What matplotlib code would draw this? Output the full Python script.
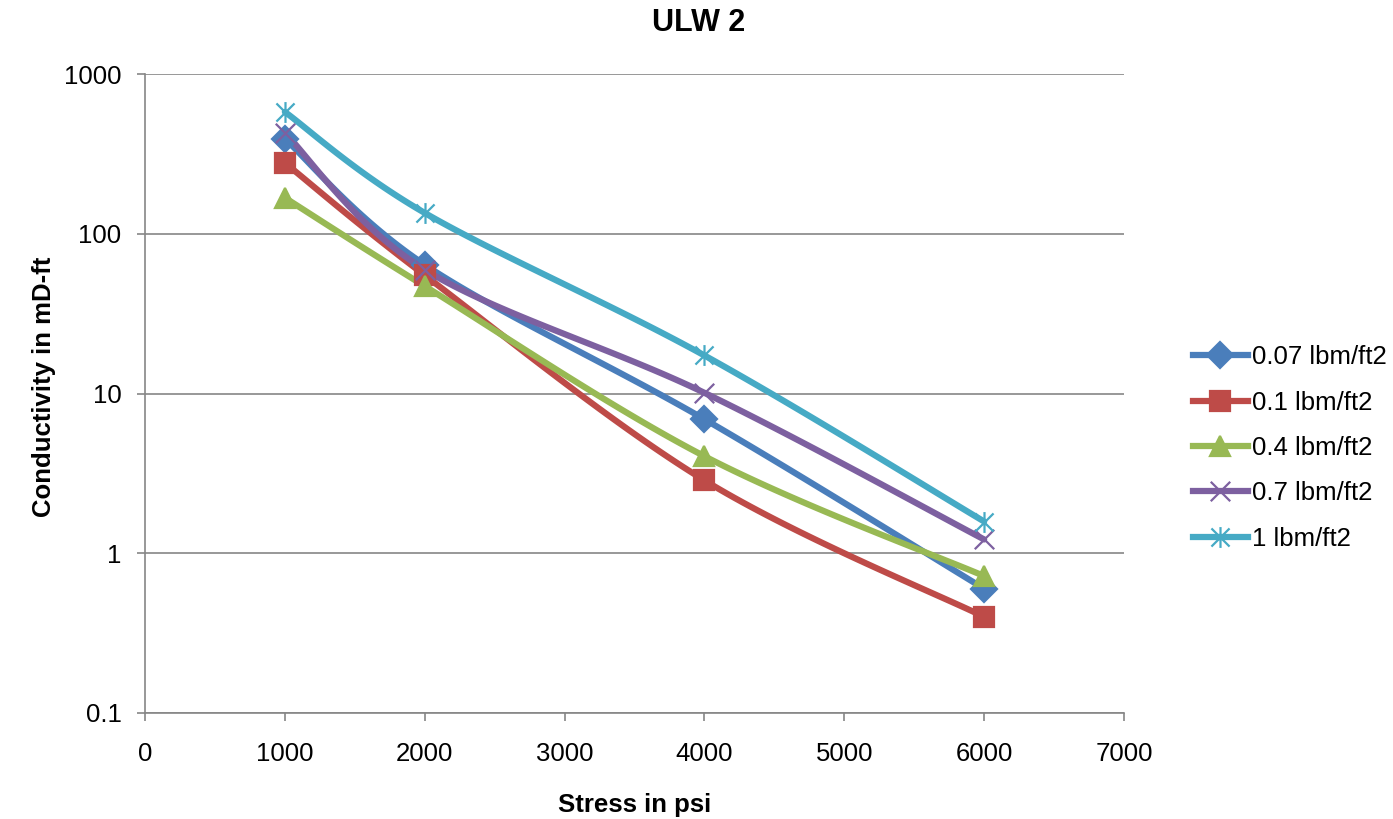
import numpy as np
import matplotlib
matplotlib.use("Agg")
import matplotlib.pyplot as plt
from matplotlib.path import Path
from matplotlib.lines import Line2D

plt.rcParams['font.family'] = ['Liberation Sans', 'DejaVu Sans']

stress = [1000, 2000, 4000, 6000]
labels = ["0.07 lbm/ft2", "0.1 lbm/ft2", "0.4 lbm/ft2", "0.7 lbm/ft2", "1 lbm/ft2"]
s007 = [393, 64, 6.9, 0.60]
s01 = [278, 55, 2.86, 0.40]
s04 = [168, 47, 4.05, 0.72]
s07 = [428, 59.6, 10.1, 1.22]
s1 = [579, 135, 17.3, 1.58]
series = [s007, s01, s04, s07, s1]
colors = ["#4a7ebb", "#be4b48", "#98b954", "#7d60a0", "#46aac5"]

star = Path([(-1, -1), (1, 1), (-1, 1), (1, -1), (0, -1.15), (0, 1.15)],
            [Path.MOVETO, Path.LINETO, Path.MOVETO, Path.LINETO, Path.MOVETO, Path.LINETO])
xmark = Path([(-1, -1), (1, 1), (-1, 1), (1, -1)],
             [Path.MOVETO, Path.LINETO, Path.MOVETO, Path.LINETO])
markers = ["D", "s", "^", xmark, star]
msizes = [13, 14, 14, 14, 15]

W, H = 1393, 819
fig = plt.figure(figsize=(W / 100, H / 100), dpi=100)
ax = fig.add_axes([145 / W, (H - 713) / H, (1124 - 145) / W, (713 - 74) / H])

xpx = 979 / 7000.0
ypx = 160.0


def smooth(xs, ys, n=40):
    P = np.array([[x * xpx, np.log10(y) * ypx] for x, y in zip(xs, ys)])
    out = []
    for i in range(len(P) - 1):
        p0 = P[i - 1] if i > 0 else P[i]
        p1 = P[i]
        p2 = P[i + 1]
        p3 = P[i + 2] if i + 2 < len(P) else P[i + 1]
        c1 = p1 + (p2 - p0) / 6.0
        c2 = p2 - (p3 - p1) / 6.0
        t = np.linspace(0, 1, n)[:, None]
        seg = ((1 - t) ** 3) * p1 + 3 * ((1 - t) ** 2) * t * c1 + 3 * (1 - t) * t ** 2 * c2 + t ** 3 * p2
        out.append(seg if i == 0 else seg[1:])
    out = np.vstack(out)
    return out[:, 0] / xpx, 10 ** (out[:, 1] / ypx)


for vals, c in zip(series, colors):
    sx, sy = smooth(stress, vals)
    ax.plot(sx, sy, color=c, lw=4.5, solid_capstyle='round', zorder=3)
for vals, c, m, ms in zip(series, colors, markers, msizes):
    filled = m in ("D", "s", "^")
    ax.plot(stress, vals, ls='none', marker=m, ms=ms, color=c,
            mec=c, mfc=c if filled else 'none', mew=1.6, zorder=4)

ax.set_yscale('log')
ax.set_ylim(0.1, 1000)
ax.set_xlim(0, 7000)
ax.set_xticks(range(0, 7001, 1000))
ax.set_yticks([0.1, 1, 10, 100, 1000])
ax.set_yticklabels(["0.1", "1", "10", "100", "1000"])
ax.yaxis.set_minor_locator(matplotlib.ticker.NullLocator())
ax.grid(axis='y', which='major', color='#868686', lw=1.2)
ax.set_axisbelow(True)
for s in ['top', 'right']:
    ax.spines[s].set_visible(False)
for s in ['left', 'bottom']:
    ax.spines[s].set_color('#868686')
    ax.spines[s].set_linewidth(1.2)
ax.tick_params(axis='both', which='major', labelsize=18.5, color='#868686',
               length=6, width=1.2, direction='out')
ax.tick_params(axis='y', pad=11)
ax.tick_params(axis='x', pad=15)

fig.text(635 / W, 1 - 805 / H, "Stress in psi", fontsize=18.5, fontweight='bold',
         ha='center', va='center')
fig.text(44 / W, 1 - 387 / H, "Conductivity in mD-ft", fontsize=18.5, fontweight='bold',
         ha='center', va='center', rotation=90)
fig.text(699 / W, 1 - 23 / H, "ULW 2", fontsize=22, fontweight='bold', ha='center', va='center')

handles = []
for c, m, ms in zip(colors, markers, msizes):
    filled = m in ("D", "s", "^")
    handles.append(Line2D([], [], color=c, lw=4.5, marker=m, ms=ms, mec=c,
                          mfc=c if filled else 'none', mew=1.6))
fig.legend(handles, labels, loc='center left', bbox_to_anchor=(1193 / W, 1 - 448 / H),
           frameon=False, fontsize=18.5, handlelength=2.14, handletextpad=0.15,
           labelspacing=0.83, borderaxespad=0, borderpad=0)

fig.savefig("out.png", dpi=100)
